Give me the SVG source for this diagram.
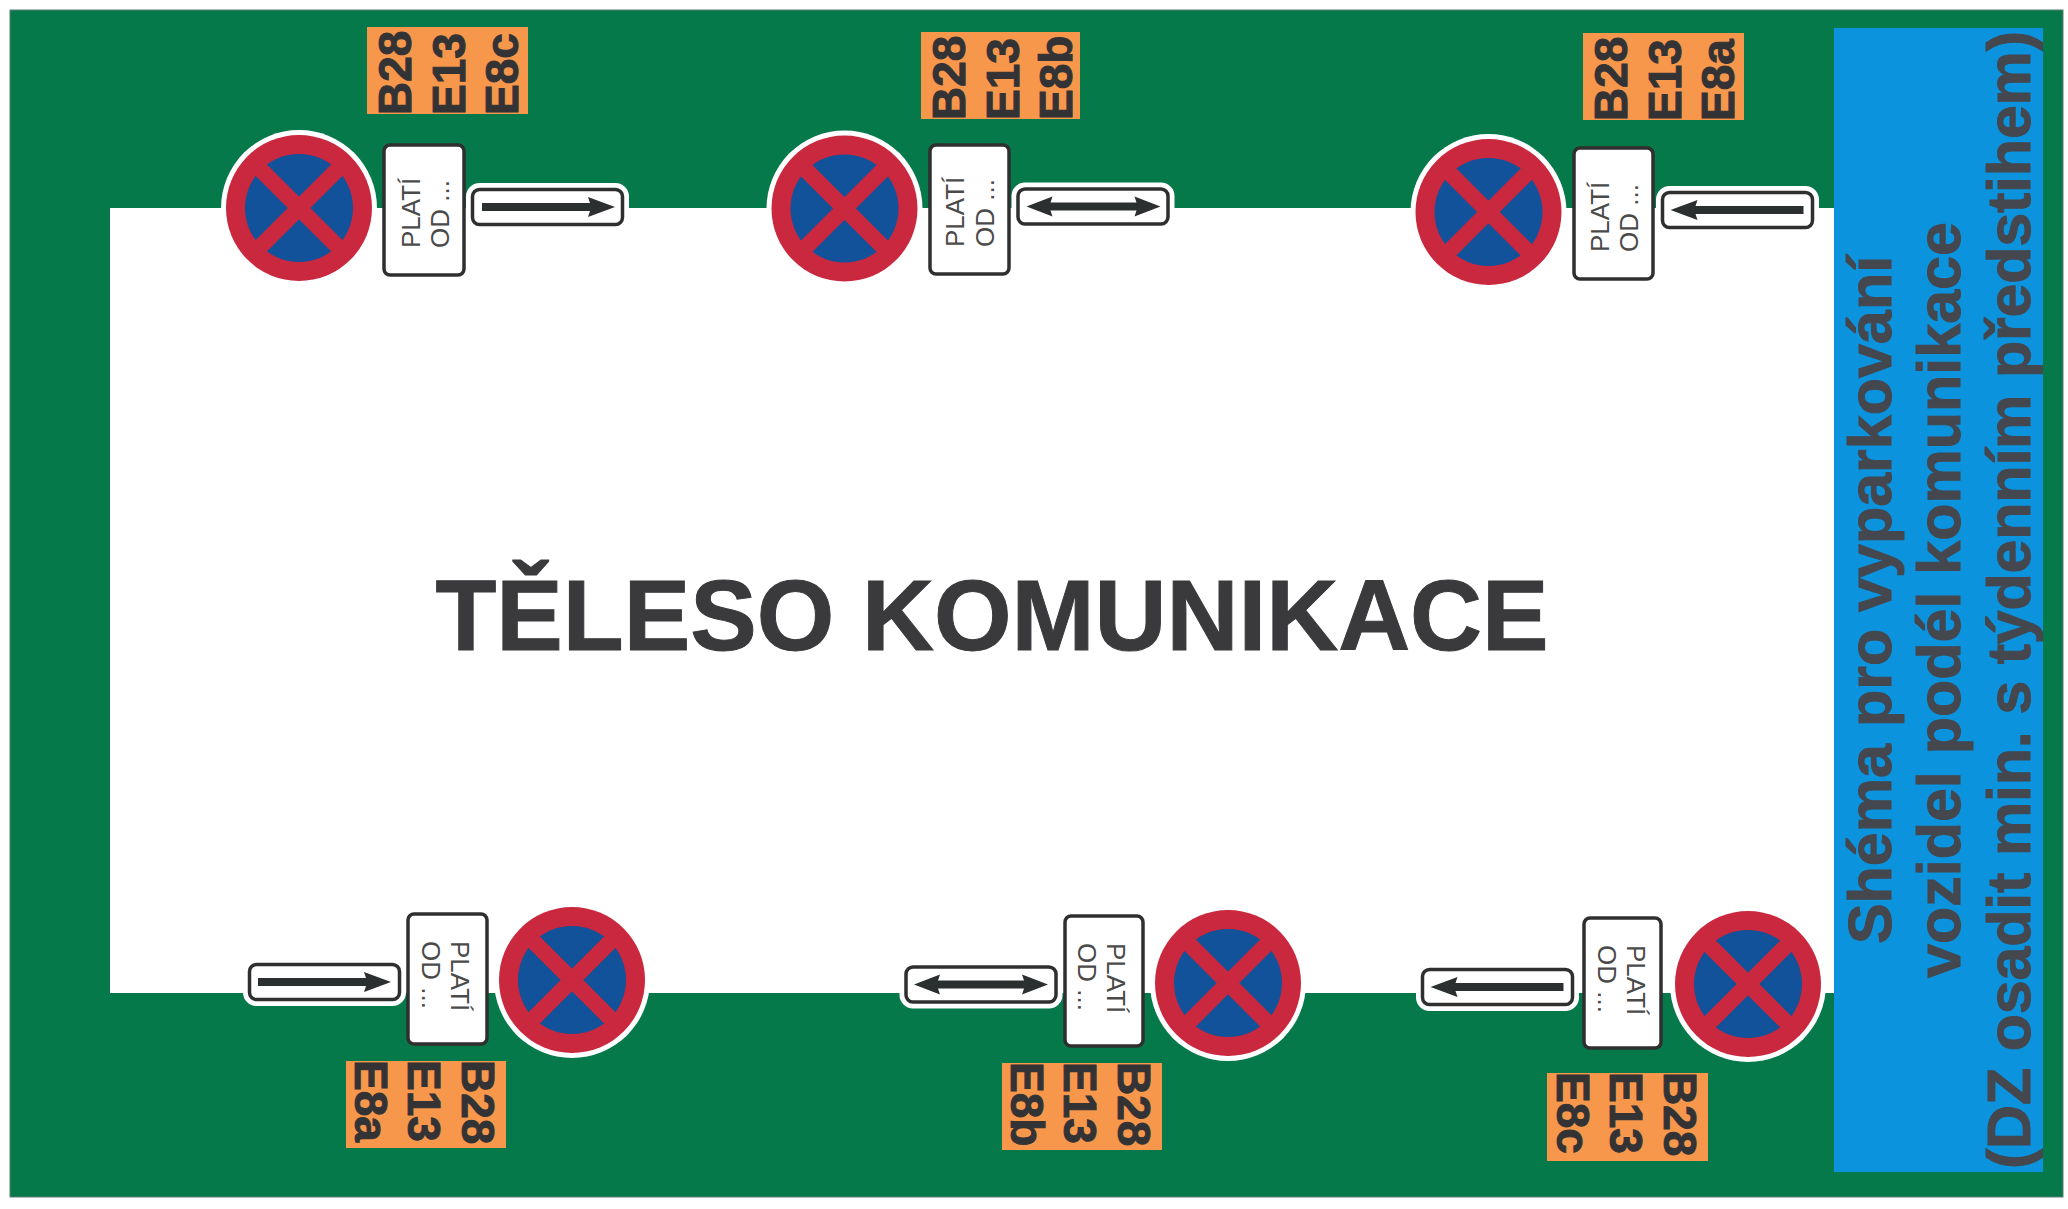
<svg xmlns="http://www.w3.org/2000/svg" width="2068" height="1209" viewBox="0 0 2068 1209">
<style>
text{font-family:"Liberation Sans",Arial,sans-serif;fill:#3a3a3c}
.code{font-size:46px;font-weight:700;fill:#333336;stroke:#333336;stroke-width:1}
.pl{font-size:26px;fill:#4a4a4a}
.plate{fill:#fff;stroke:#2f2f2f;stroke-width:3.5}
.halo{fill:#fff;stroke:#fff;stroke-width:13}
.or{fill:#f7974c}
.side{font-size:61px;font-weight:700;fill:#45474f;stroke:#45474f;stroke-width:1;text-anchor:middle}
</style>
<defs>
<clipPath id="panel"><rect x="1834" y="28" width="209" height="1144"/></clipPath>
<g id="disk">
<circle r="78" fill="#fff"/>
<circle r="73" fill="#c9283f"/>
<circle r="54" fill="#12529a"/>
<path d="M-44,-44 L44,44 M44,-44 L-44,44" stroke="#c9283f" stroke-width="16" fill="none"/>
</g>
<g id="box">
<rect class="halo" x="-75" y="-17.5" width="150" height="35" rx="7"/>
<rect class="plate" x="-75" y="-17.5" width="150" height="35" rx="7"/>
</g>
<path id="ar" fill="#2c2f30" d="M-66,-4 H42 L40,-10 L67,0 L40,10 L42,4 H-66 Z"/>
<path id="al" fill="#2c2f30" d="M66,-4 H-42 L-40,-10 L-67,0 L-40,10 L-42,4 H66 Z"/>
<path id="ab" fill="#2c2f30" d="M0,-4 H43 L41,-10 L67,0 L41,10 L43,4 H-43 L-41,10 L-67,0 L-41,-10 L-43,-4 Z"/>
</defs>
<rect width="2068" height="1209" fill="#fff"/>
<g id="ground">
<rect x="10" y="10" width="2053" height="1187" fill="#05794a" stroke="#5d7f70" stroke-width="1"/>
<rect x="110" y="208" width="1726" height="785" fill="#fff"/>
</g>
<text id="title" x="992" y="650" font-size="99.7" font-weight="700" text-anchor="middle" stroke="#3a3a3c" stroke-width="1">TĚLESO KOMUNIKACE</text>
<g id="legend">
<rect x="1834" y="28" width="209" height="1144" fill="#0b93dd"/>
<g clip-path="url(#panel)">
<g transform="translate(0,600) rotate(-90)">
<text class="side" x="0" y="1891">Shéma pro vyparkování</text>
<text class="side" x="0" y="1960">vozidel podél komunikace</text>
<text class="side" x="0" y="2030" textLength="1138" lengthAdjust="spacing">(DZ osadit min. s týdenním předstihem)</text>
</g>
</g>
</g>

<g id="sign-top-1">
<rect class="or" x="367" y="27" width="161" height="87"/>
<g transform="translate(367,115) rotate(-90)"><text class="code" y="44">B28</text><text class="code" y="98">E13</text><text class="code" y="151">E8c</text></g>
<use href="#disk" x="299" y="208"/>
<rect class="plate" x="384" y="145" width="80" height="130" rx="6"/>
<g transform="translate(382,277) rotate(-90)"><text class="pl" x="29" y="38">PLATÍ</text><text class="pl" x="29" y="67">OD ...</text></g>
<use href="#box" x="547.5" y="207"/><use href="#ar" x="548" y="207"/>
</g>
<g id="sign-top-2">
<rect class="or" x="921" y="32" width="159" height="87"/>
<g transform="translate(921,120) rotate(-90)"><text class="code" y="44">B28</text><text class="code" y="98">E13</text><text class="code" y="151">E8b</text></g>
<use href="#disk" x="844.5" y="208.5"/>
<rect class="plate" x="930" y="145" width="79" height="129" rx="6"/>
<g transform="translate(928,276) rotate(-90)"><text class="pl" x="29" y="36">PLATÍ</text><text class="pl" x="29" y="66">OD ...</text></g>
<use href="#box" x="1093" y="206.5"/><use href="#ab" x="1093.5" y="206.5"/>
</g>
<g id="sign-top-3">
<rect class="or" x="1583" y="33" width="161" height="87"/>
<g transform="translate(1583,121) rotate(-90)"><text class="code" y="44">B28</text><text class="code" y="98">E13</text><text class="code" y="151">E8a</text></g>
<use href="#disk" x="1488.5" y="212"/>
<rect class="plate" x="1574" y="148" width="79" height="131" rx="6"/>
<g transform="translate(1572,281) rotate(-90)"><text class="pl" x="29" y="37">PLATÍ</text><text class="pl" x="29" y="66">OD ...</text></g>
<use href="#box" x="1737.5" y="210"/><use href="#al" x="1737.5" y="210"/>
</g>
<g id="sign-bottom-1">
<rect class="or" x="346" y="1061" width="160" height="87"/>
<g transform="translate(506,1060) rotate(90)"><text class="code" y="44">B28</text><text class="code" y="98">E13</text><text class="code" y="151">E8a</text></g>
<use href="#disk" x="572" y="980"/>
<rect class="plate" x="408" y="914" width="79" height="130" rx="6"/>
<g transform="translate(489,912) rotate(90)"><text class="pl" x="29" y="38">PLATÍ</text><text class="pl" x="29" y="67">OD ...</text></g>
<use href="#box" x="324.5" y="982"/><use href="#ar" x="324" y="982"/>
</g>
<g id="sign-bottom-2">
<rect class="or" x="1002" y="1063" width="160" height="87"/>
<g transform="translate(1162,1062) rotate(90)"><text class="code" y="44">B28</text><text class="code" y="98">E13</text><text class="code" y="151">E8b</text></g>
<use href="#disk" x="1228" y="983"/>
<rect class="plate" x="1065" y="916" width="78" height="130" rx="6"/>
<g transform="translate(1145,914) rotate(90)"><text class="pl" x="29" y="38">PLATÍ</text><text class="pl" x="29" y="67">OD ...</text></g>
<use href="#box" x="981" y="984.5"/><use href="#ab" x="981" y="984.5"/>
</g>
<g id="sign-bottom-3">
<rect class="or" x="1547" y="1073" width="161" height="88"/>
<g transform="translate(1708,1072) rotate(90)"><text class="code" y="44">B28</text><text class="code" y="98">E13</text><text class="code" y="151">E8c</text></g>
<use href="#disk" x="1748" y="984"/>
<rect class="plate" x="1584" y="918" width="77" height="130" rx="6"/>
<g transform="translate(1663,916) rotate(90)"><text class="pl" x="29" y="36">PLATÍ</text><text class="pl" x="29" y="65">OD ...</text></g>
<use href="#box" x="1497.5" y="987"/><use href="#al" x="1497.5" y="987"/>
</g>
</svg>
